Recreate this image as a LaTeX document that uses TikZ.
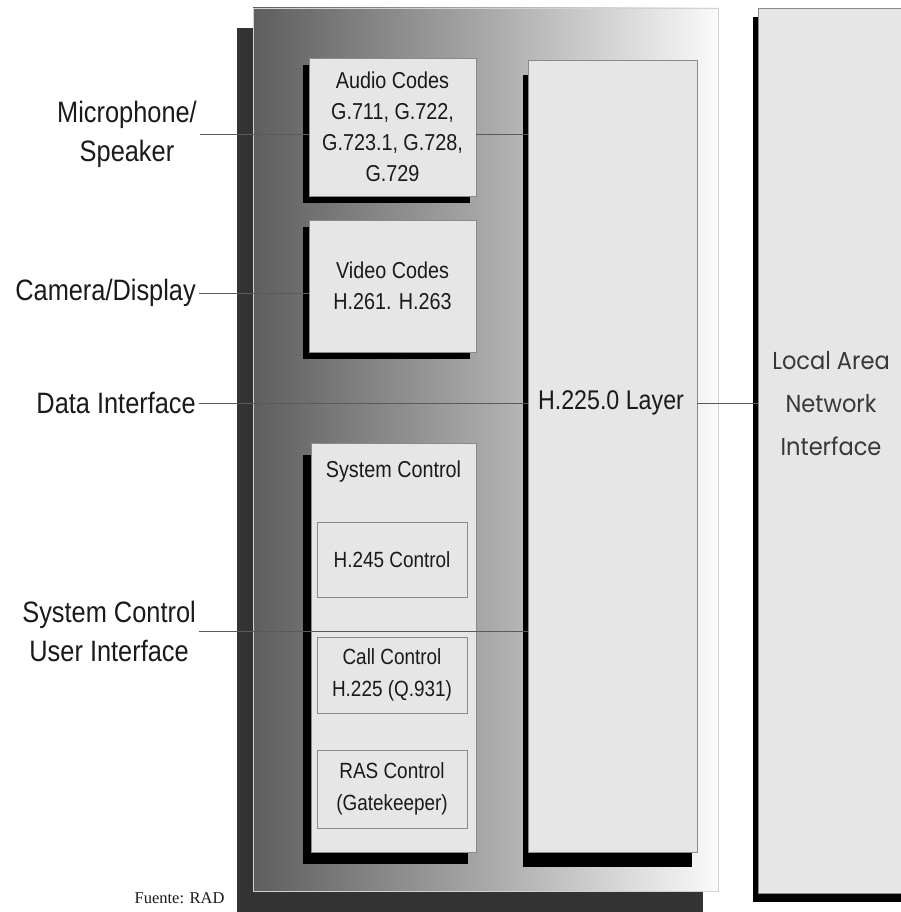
\documentclass[tikz,border=0pt]{standalone}
\usepackage{fontspec}
\setmainfont{Liberation Sans}[FakeStretch=0.86]
\newfontfamily\lanfont{Poppins}[FakeStretch=0.92]
\newfontfamily\srcfont{Liberation Serif}
\usetikzlibrary{shadows}
\definecolor{boxfill}{HTML}{E6E6E6}
\definecolor{boxline}{HTML}{8A8A8A}
\definecolor{txt}{HTML}{1A1A1A}
\definecolor{panshadow}{HTML}{333333}
\definecolor{lineclr}{HTML}{5A5A5A}
\definecolor{panL}{HTML}{5E5E5E}
\definecolor{panM}{HTML}{A8A8A8}
\definecolor{panR}{HTML}{FAFAFA}
\begin{document}
\begin{tikzpicture}[x=1pt,y=-1pt,
  panel/.style={draw=black!18, line width=0.6pt, left color=panL, right color=panR, middle color=panM, inner sep=0pt},
  box/.style={draw=boxline, fill=boxfill, line width=0.6pt, inner sep=0pt, align=center, text=txt, font=\fontsize{23}{31}\selectfont},
  subbox/.style={draw=boxline, fill=boxfill, line width=0.8pt, inner sep=0pt, align=center, text=txt, font=\fontsize{22}{32}\selectfont, minimum width=150pt},
  lbl/.style={text=txt, align=center, inner sep=3pt, font=\fontsize{29.5}{39}\selectfont},
  conn/.style={draw=lineclr, line width=0.8pt}]
\useasboundingbox (0,0) rectangle (901,912);
% main panel
\fill[panshadow] (237,28) rectangle (703,914);
\node[panel, minimum width=465pt, minimum height=883pt] (panel) at (485.5,449.5) {};
% boxes
\node[box, minimum width=167pt, minimum height=138pt,
  general shadow={fill=black, shadow xshift=-6pt, shadow yshift=-7pt}] (audio) at (392.5,127)
  {Audio Codes\\G.711, G.722,\\G.723.1, G.728,\\G.729};
\node[box, minimum width=167pt, minimum height=132pt,
  general shadow={fill=black, shadow xshift=-6pt, shadow yshift=-7pt}] (video) at (392.5,286)
  {Video Codes\\H.261. H.263};
\node[box, minimum width=165pt, minimum height=409pt,
  general shadow={fill=black, shadow xshift=-8pt, shadow yshift=-12pt}] (sys) at (393.5,647.5) {};
\node[text=txt, font=\fontsize{23}{31}\selectfont] (systitle) at (393.5,472) {System Control};
\node[subbox, minimum height=75pt] (h245) at (392,559.5) {H.245 Control};
\node[subbox, minimum height=76pt] (call) at (392,675) {Call Control\\H.225 (Q.931)};
\node[subbox, minimum height=78pt] (ras) at (392,789) {RAS Control\\(Gatekeeper)};
\node[box, minimum width=169pt, minimum height=792pt,
  general shadow={fill=black, shadow xshift=-5pt, shadow yshift=-15pt}] (h225) at (612.5,456) {};
\node[text=txt, font=\fontsize{27}{32}\selectfont] (h225t) at (611,403) {H.225.0 Layer};
\node[box, minimum width=160pt, minimum height=885pt,
  general shadow={fill=black, shadow xshift=-5pt, shadow yshift=-9pt}] (lan) at (838,450.5) {};
\node[text=black!78, align=center, font=\lanfont\fontsize{24.5}{43}\selectfont] (lant) at (831,404)
  {Local Area\\Network\\Interface};
% labels
\node[lbl, anchor=east] (mic) at (200,134) {Microphone/\\Speaker};
\node[lbl, anchor=east] (cam) at (199,293) {Camera/Display};
\node[lbl, anchor=east] (data) at (199,403) {Data Interface};
\node[lbl, anchor=east] (sysui) at (199,631) {System Control\\User Interface};
\node[text=txt, anchor=east, font=\srcfont\fontsize{16.5}{19}\selectfont] (src) at (228,898) {Fuente: RAD};
% connectors
\draw[conn] (mic.east) -- (mic.east -| audio.west);
\draw[conn] (audio.east |- mic.east) -- (mic.east -| h225.west);
\draw[conn] (cam.east) -- (cam.east -| video.west);
\draw[conn] (data.east) -- (data.east -| h225.west);
\draw[conn] (h225.east |- data.east) -- (data.east -| lan.west);
\draw[conn] (sysui.east) -- (sysui.east -| h225.west);
\end{tikzpicture}
\end{document}
